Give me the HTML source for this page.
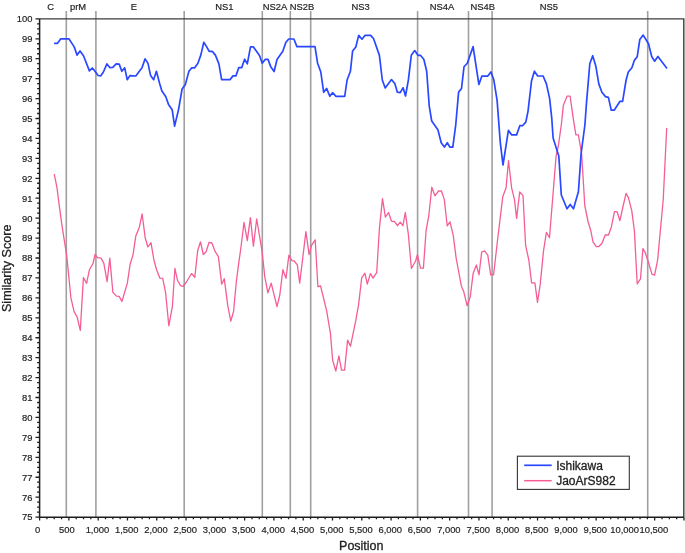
<!DOCTYPE html>
<html><head><meta charset="utf-8"><title>Similarity plot</title>
<style>html,body{margin:0;padding:0;background:#fff;}body{width:685px;height:553px;position:relative;overflow:hidden;}</style>
</head><body>
<svg width="685" height="553" viewBox="0 0 685 553" style="position:absolute;left:0;top:0">
<line x1="66.3" y1="11" x2="66.3" y2="517.2" stroke="#a0a0a0" stroke-width="1.6"/>
<line x1="95.9" y1="11" x2="95.9" y2="517.2" stroke="#a0a0a0" stroke-width="1.6"/>
<line x1="184.2" y1="11" x2="184.2" y2="517.2" stroke="#a0a0a0" stroke-width="1.6"/>
<line x1="262.3" y1="11" x2="262.3" y2="517.2" stroke="#a0a0a0" stroke-width="1.6"/>
<line x1="290.3" y1="11" x2="290.3" y2="517.2" stroke="#a0a0a0" stroke-width="1.6"/>
<line x1="310.7" y1="11" x2="310.7" y2="517.2" stroke="#a0a0a0" stroke-width="1.6"/>
<line x1="417.6" y1="11" x2="417.6" y2="517.2" stroke="#a0a0a0" stroke-width="1.6"/>
<line x1="468.5" y1="11" x2="468.5" y2="517.2" stroke="#a0a0a0" stroke-width="1.6"/>
<line x1="492.1" y1="11" x2="492.1" y2="517.2" stroke="#a0a0a0" stroke-width="1.6"/>
<line x1="647.7" y1="11" x2="647.7" y2="517.2" stroke="#a0a0a0" stroke-width="1.6"/>
<polyline points="54.2,174.2 57.0,187.6 58.6,200.6 61.9,225.1 66.8,256.3 70.9,297.9 74.0,311.4 77.1,316.9 80.3,330.4 83.4,277.6 86.6,283.4 89.4,269.8 93.0,263.5 95.1,254.5 97.5,257.7 101.1,258.1 103.8,263.1 107.1,281.6 109.8,258.1 112.9,292.4 116.5,296.1 119.2,296.4 121.9,301.5 127.3,283.4 130.1,264.3 133.0,254.9 135.8,236.1 139.5,226.7 142.1,214.0 145.3,238.3 147.9,247.0 151.0,242.6 153.9,260.0 156.5,269.5 159.8,278.1 162.7,278.4 165.6,292.6 168.8,325.8 172.4,306.3 174.9,268.3 177.5,280.3 180.3,285.3 182.9,286.5 186.1,282.5 191.6,273.5 194.8,277.4 197.7,250.5 200.5,241.8 203.3,254.5 206.1,251.7 209.1,242.3 211.9,243.0 215.2,251.7 218.4,256.6 221.7,284.2 224.3,278.8 227.8,305.9 230.8,321.1 233.6,311.3 236.3,282.0 238.6,264.2 241.0,247.0 244.0,222.3 247.3,240.7 250.4,217.6 253.4,246.2 256.7,219.0 262.1,251.6 264.8,276.9 267.9,292.8 271.2,283.2 277.0,306.7 279.8,295.0 282.9,269.7 286.0,278.4 288.9,255.2 292.0,260.6 294.3,261.0 297.4,265.2 299.7,283.2 305.9,231.7 309.1,254.6 311.5,245.3 315.2,239.9 317.9,286.7 320.6,286.0 326.7,311.2 330.5,333.9 332.6,360.0 335.8,371.1 338.9,355.9 341.5,370.1 344.6,370.1 347.6,340.1 350.5,346.2 355.7,320.9 358.6,304.6 361.7,277.9 364.9,273.2 367.3,284.1 370.4,273.6 373.1,278.1 376.7,272.7 379.4,228.4 382.5,198.6 385.4,217.2 388.5,212.5 391.5,221.2 394.4,221.5 397.5,225.7 400.2,222.1 402.9,225.7 405.3,212.5 408.3,233.8 411.4,268.5 415.6,261.0 417.4,254.7 420.5,268.2 423.4,268.2 426.1,230.3 428.8,215.7 431.8,187.2 434.9,195.8 438.6,191.0 441.4,191.0 444.3,199.4 447.2,225.8 450.0,221.9 453.2,235.2 456.2,258.5 461.4,286.2 463.8,291.8 467.1,305.7 470.3,296.7 473.1,273.6 476.4,265.0 479.0,274.8 481.7,252.0 484.5,250.8 487.8,255.2 490.7,274.8 493.6,274.8 497.2,243.0 502.8,196.4 506.1,187.8 508.5,160.6 511.6,187.8 514.5,199.6 516.6,218.4 519.7,192.0 523.0,195.6 525.6,245.3 528.8,260.0 531.6,282.8 534.9,282.8 537.5,302.3 540.2,284.4 543.5,251.0 546.4,232.3 549.5,237.7 556.1,155.9 558.3,146.2 561.3,125.0 563.3,105.6 567.0,96.2 570.1,96.2 573.5,120.1 575.9,134.8 578.4,134.8 581.6,153.5 584.8,205.5 588.0,221.5 590.9,231.2 593.0,241.8 596.3,246.7 598.7,246.7 602.0,243.2 605.2,235.0 608.5,235.0 611.3,227.2 614.5,211.7 617.1,211.7 619.9,220.7 623.1,206.0 626.1,193.3 628.5,197.9 631.8,210.9 634.4,230.9 637.2,283.8 640.5,278.9 642.9,248.5 645.3,252.9 648.6,262.7 651.9,274.1 654.6,275.2 657.6,260.2 663.2,200.0 666.7,127.9" fill="none" stroke="#f55d97" stroke-width="1.3" stroke-linejoin="round"/>
<polyline points="54.1,43.4 57.3,43.4 60.8,38.8 68.9,38.8 74.2,46.9 77.1,55.1 80.0,51.0 83.5,55.7 89.4,70.9 92.3,68.0 95.2,71.5 98.1,75.5 100.8,75.8 103.4,72.0 106.9,63.9 109.8,67.6 112.7,67.4 116.2,63.9 119.2,64.1 121.8,71.3 124.7,67.8 127.2,79.7 129.9,75.6 135.8,76.0 142.0,67.8 145.1,58.9 148.0,63.4 150.6,75.6 153.6,79.7 156.4,71.3 159.7,83.8 161.8,90.8 165.8,96.7 168.5,104.4 172.2,109.8 174.6,126.1 178.5,109.8 182.1,89.0 185.4,84.4 188.9,71.3 191.8,67.8 194.7,67.8 197.9,63.3 200.8,55.1 203.8,42.3 206.7,46.9 209.2,51.4 212.3,51.4 215.4,55.1 218.9,63.9 221.6,79.6 230.0,79.6 233.0,75.9 235.9,75.9 238.8,67.6 241.7,67.6 244.6,59.2 247.3,63.9 250.5,46.9 253.4,46.9 256.3,51.0 259.5,55.5 262.2,63.3 265.1,59.4 268.0,59.4 270.9,67.1 274.1,71.5 277.0,59.5 282.8,51.3 285.8,42.5 288.7,39.0 293.9,39.0 296.9,46.6 315.0,46.6 317.6,63.3 320.8,72.0 323.7,92.3 326.6,88.4 329.8,96.3 332.6,92.7 336.0,96.3 344.7,96.3 347.1,80.0 350.4,71.3 352.6,51.0 355.8,47.0 358.7,35.4 362.0,39.2 364.9,35.4 370.7,35.4 373.6,38.7 379.4,55.4 382.3,80.0 385.2,87.9 391.5,79.6 394.8,83.5 397.3,92.1 400.2,92.6 403.1,87.8 405.5,96.0 408.4,79.8 411.3,55.3 414.7,50.6 418.0,55.3 420.4,55.3 423.8,59.3 426.7,71.2 429.2,105.8 431.7,121.0 437.9,129.7 441.2,142.7 444.4,147.1 447.3,142.7 449.8,147.1 452.8,147.1 455.8,124.3 458.6,92.1 461.5,88.5 464.0,66.8 467.3,63.2 473.1,46.6 478.9,84.5 481.8,76.2 487.6,76.2 490.9,71.9 493.8,79.8 497.1,100.4 500.3,142.7 503.0,165.0 508.4,130.3 511.7,134.9 516.6,134.9 519.8,125.7 522.5,125.7 525.8,122.1 528.0,111.3 531.5,81.0 534.4,71.2 537.7,76.0 543.1,76.0 546.4,83.9 549.6,98.4 551.8,118.7 553.1,138.0 557.2,151.0 558.8,155.9 561.3,195.0 567.0,208.8 570.2,204.4 573.5,208.8 578.4,191.7 581.1,153.5 584.9,125.0 586.5,102.7 589.8,63.7 592.7,55.7 595.9,66.6 598.8,83.9 601.9,92.2 605.5,96.6 608.4,97.4 611.3,110.2 614.2,110.2 620.0,101.3 622.6,101.3 626.1,80.0 628.3,72.0 631.9,67.7 634.3,60.4 637.2,56.8 639.8,39.5 643.2,35.1 648.5,43.8 651.7,56.5 654.6,61.2 657.9,56.5 667.0,68.4" fill="none" stroke="#2a48ff" stroke-width="1.7" stroke-linejoin="round"/>
<path d="M39.6,18.85 H683.8 V517.2" fill="none" stroke="#3c3c3c" stroke-width="1.4"/>
<path d="M39.6,18.85 V517.2 H683.8" fill="none" stroke="#1e1e1e" stroke-width="1.5"/>
<path d="M35.5,517.10H39.6M37.1,512.12H39.6M37.1,507.13H39.6M37.1,502.15H39.6M35.5,497.17H39.6M37.1,492.19H39.6M37.1,487.21H39.6M37.1,482.22H39.6M35.5,477.24H39.6M37.1,472.26H39.6M37.1,467.28H39.6M37.1,462.29H39.6M35.5,457.31H39.6M37.1,452.33H39.6M37.1,447.35H39.6M37.1,442.36H39.6M35.5,437.38H39.6M37.1,432.40H39.6M37.1,427.42H39.6M37.1,422.43H39.6M35.5,417.45H39.6M37.1,412.47H39.6M37.1,407.49H39.6M37.1,402.50H39.6M35.5,397.52H39.6M37.1,392.54H39.6M37.1,387.56H39.6M37.1,382.57H39.6M35.5,377.59H39.6M37.1,372.61H39.6M37.1,367.62H39.6M37.1,362.64H39.6M35.5,357.66H39.6M37.1,352.68H39.6M37.1,347.69H39.6M37.1,342.71H39.6M35.5,337.73H39.6M37.1,332.75H39.6M37.1,327.77H39.6M37.1,322.78H39.6M35.5,317.80H39.6M37.1,312.82H39.6M37.1,307.84H39.6M37.1,302.85H39.6M35.5,297.87H39.6M37.1,292.89H39.6M37.1,287.91H39.6M37.1,282.92H39.6M35.5,277.94H39.6M37.1,272.96H39.6M37.1,267.98H39.6M37.1,262.99H39.6M35.5,258.01H39.6M37.1,253.03H39.6M37.1,248.04H39.6M37.1,243.06H39.6M35.5,238.08H39.6M37.1,233.10H39.6M37.1,228.11H39.6M37.1,223.13H39.6M35.5,218.15H39.6M37.1,213.17H39.6M37.1,208.19H39.6M37.1,203.20H39.6M35.5,198.22H39.6M37.1,193.24H39.6M37.1,188.25H39.6M37.1,183.27H39.6M35.5,178.29H39.6M37.1,173.31H39.6M37.1,168.32H39.6M37.1,163.34H39.6M35.5,158.36H39.6M37.1,153.38H39.6M37.1,148.39H39.6M37.1,143.41H39.6M35.5,138.43H39.6M37.1,133.45H39.6M37.1,128.47H39.6M37.1,123.48H39.6M35.5,118.50H39.6M37.1,113.52H39.6M37.1,108.53H39.6M37.1,103.55H39.6M35.5,98.57H39.6M37.1,93.59H39.6M37.1,88.60H39.6M37.1,83.62H39.6M35.5,78.64H39.6M37.1,73.66H39.6M37.1,68.68H39.6M37.1,63.69H39.6M35.5,58.71H39.6M37.1,53.73H39.6M37.1,48.75H39.6M37.1,43.76H39.6M35.5,38.78H39.6M37.1,33.80H39.6M37.1,28.82H39.6M37.1,23.83H39.6M35.5,18.85H39.6" stroke="#1e1e1e" stroke-width="1.3"/>
<path d="M39.60,517.2V520.6M46.92,517.2V519.2M54.25,517.2V519.2M61.57,517.2V519.2M68.89,517.2V520.6M76.21,517.2V519.2M83.53,517.2V519.2M90.86,517.2V519.2M98.18,517.2V520.6M105.50,517.2V519.2M112.82,517.2V519.2M120.15,517.2V519.2M127.47,517.2V520.6M134.79,517.2V519.2M142.12,517.2V519.2M149.44,517.2V519.2M156.76,517.2V520.6M164.08,517.2V519.2M171.41,517.2V519.2M178.73,517.2V519.2M186.05,517.2V520.6M193.37,517.2V519.2M200.69,517.2V519.2M208.02,517.2V519.2M215.34,517.2V520.6M222.66,517.2V519.2M229.98,517.2V519.2M237.31,517.2V519.2M244.63,517.2V520.6M251.95,517.2V519.2M259.28,517.2V519.2M266.60,517.2V519.2M273.92,517.2V520.6M281.24,517.2V519.2M288.56,517.2V519.2M295.89,517.2V519.2M303.21,517.2V520.6M310.53,517.2V519.2M317.86,517.2V519.2M325.18,517.2V519.2M332.50,517.2V520.6M339.82,517.2V519.2M347.15,517.2V519.2M354.47,517.2V519.2M361.79,517.2V520.6M369.11,517.2V519.2M376.44,517.2V519.2M383.76,517.2V519.2M391.08,517.2V520.6M398.40,517.2V519.2M405.73,517.2V519.2M413.05,517.2V519.2M420.37,517.2V520.6M427.69,517.2V519.2M435.02,517.2V519.2M442.34,517.2V519.2M449.66,517.2V520.6M456.98,517.2V519.2M464.31,517.2V519.2M471.63,517.2V519.2M478.95,517.2V520.6M486.27,517.2V519.2M493.60,517.2V519.2M500.92,517.2V519.2M508.24,517.2V520.6M515.56,517.2V519.2M522.88,517.2V519.2M530.21,517.2V519.2M537.53,517.2V520.6M544.85,517.2V519.2M552.18,517.2V519.2M559.50,517.2V519.2M566.82,517.2V520.6M574.14,517.2V519.2M581.47,517.2V519.2M588.79,517.2V519.2M596.11,517.2V520.6M603.43,517.2V519.2M610.75,517.2V519.2M618.08,517.2V519.2M625.40,517.2V520.6M632.72,517.2V519.2M640.05,517.2V519.2M647.37,517.2V519.2M654.69,517.2V520.6M662.01,517.2V519.2M669.34,517.2V519.2M676.66,517.2V519.2M683.98,517.2V520.6" stroke="#1e1e1e" stroke-width="1.3"/>
<text transform="translate(32.4,520.45)" text-anchor="end" font-size="9.4" fill="#222" font-family="Liberation Sans, Arial, Helvetica, sans-serif" stroke="#222" stroke-width="0.18">75</text>
<text transform="translate(32.4,500.52)" text-anchor="end" font-size="9.4" fill="#222" font-family="Liberation Sans, Arial, Helvetica, sans-serif" stroke="#222" stroke-width="0.18">76</text>
<text transform="translate(32.4,480.59)" text-anchor="end" font-size="9.4" fill="#222" font-family="Liberation Sans, Arial, Helvetica, sans-serif" stroke="#222" stroke-width="0.18">77</text>
<text transform="translate(32.4,460.66)" text-anchor="end" font-size="9.4" fill="#222" font-family="Liberation Sans, Arial, Helvetica, sans-serif" stroke="#222" stroke-width="0.18">78</text>
<text transform="translate(32.4,440.73)" text-anchor="end" font-size="9.4" fill="#222" font-family="Liberation Sans, Arial, Helvetica, sans-serif" stroke="#222" stroke-width="0.18">79</text>
<text transform="translate(32.4,420.80)" text-anchor="end" font-size="9.4" fill="#222" font-family="Liberation Sans, Arial, Helvetica, sans-serif" stroke="#222" stroke-width="0.18">80</text>
<text transform="translate(32.4,400.87)" text-anchor="end" font-size="9.4" fill="#222" font-family="Liberation Sans, Arial, Helvetica, sans-serif" stroke="#222" stroke-width="0.18">81</text>
<text transform="translate(32.4,380.94)" text-anchor="end" font-size="9.4" fill="#222" font-family="Liberation Sans, Arial, Helvetica, sans-serif" stroke="#222" stroke-width="0.18">82</text>
<text transform="translate(32.4,361.01)" text-anchor="end" font-size="9.4" fill="#222" font-family="Liberation Sans, Arial, Helvetica, sans-serif" stroke="#222" stroke-width="0.18">83</text>
<text transform="translate(32.4,341.08)" text-anchor="end" font-size="9.4" fill="#222" font-family="Liberation Sans, Arial, Helvetica, sans-serif" stroke="#222" stroke-width="0.18">84</text>
<text transform="translate(32.4,321.15)" text-anchor="end" font-size="9.4" fill="#222" font-family="Liberation Sans, Arial, Helvetica, sans-serif" stroke="#222" stroke-width="0.18">85</text>
<text transform="translate(32.4,301.22)" text-anchor="end" font-size="9.4" fill="#222" font-family="Liberation Sans, Arial, Helvetica, sans-serif" stroke="#222" stroke-width="0.18">86</text>
<text transform="translate(32.4,281.29)" text-anchor="end" font-size="9.4" fill="#222" font-family="Liberation Sans, Arial, Helvetica, sans-serif" stroke="#222" stroke-width="0.18">87</text>
<text transform="translate(32.4,261.36)" text-anchor="end" font-size="9.4" fill="#222" font-family="Liberation Sans, Arial, Helvetica, sans-serif" stroke="#222" stroke-width="0.18">88</text>
<text transform="translate(32.4,241.43)" text-anchor="end" font-size="9.4" fill="#222" font-family="Liberation Sans, Arial, Helvetica, sans-serif" stroke="#222" stroke-width="0.18">89</text>
<text transform="translate(32.4,221.50)" text-anchor="end" font-size="9.4" fill="#222" font-family="Liberation Sans, Arial, Helvetica, sans-serif" stroke="#222" stroke-width="0.18">90</text>
<text transform="translate(32.4,201.57)" text-anchor="end" font-size="9.4" fill="#222" font-family="Liberation Sans, Arial, Helvetica, sans-serif" stroke="#222" stroke-width="0.18">91</text>
<text transform="translate(32.4,181.64)" text-anchor="end" font-size="9.4" fill="#222" font-family="Liberation Sans, Arial, Helvetica, sans-serif" stroke="#222" stroke-width="0.18">92</text>
<text transform="translate(32.4,161.71)" text-anchor="end" font-size="9.4" fill="#222" font-family="Liberation Sans, Arial, Helvetica, sans-serif" stroke="#222" stroke-width="0.18">93</text>
<text transform="translate(32.4,141.78)" text-anchor="end" font-size="9.4" fill="#222" font-family="Liberation Sans, Arial, Helvetica, sans-serif" stroke="#222" stroke-width="0.18">94</text>
<text transform="translate(32.4,121.85)" text-anchor="end" font-size="9.4" fill="#222" font-family="Liberation Sans, Arial, Helvetica, sans-serif" stroke="#222" stroke-width="0.18">95</text>
<text transform="translate(32.4,101.92)" text-anchor="end" font-size="9.4" fill="#222" font-family="Liberation Sans, Arial, Helvetica, sans-serif" stroke="#222" stroke-width="0.18">96</text>
<text transform="translate(32.4,81.99)" text-anchor="end" font-size="9.4" fill="#222" font-family="Liberation Sans, Arial, Helvetica, sans-serif" stroke="#222" stroke-width="0.18">97</text>
<text transform="translate(32.4,62.06)" text-anchor="end" font-size="9.4" fill="#222" font-family="Liberation Sans, Arial, Helvetica, sans-serif" stroke="#222" stroke-width="0.18">98</text>
<text transform="translate(32.4,42.13)" text-anchor="end" font-size="9.4" fill="#222" font-family="Liberation Sans, Arial, Helvetica, sans-serif" stroke="#222" stroke-width="0.18">99</text>
<text transform="translate(32.4,22.20)" text-anchor="end" font-size="9.4" fill="#222" font-family="Liberation Sans, Arial, Helvetica, sans-serif" stroke="#222" stroke-width="0.18">100</text>
<text transform="translate(37.60,533.2)" text-anchor="middle" font-size="9.4" fill="#222" font-family="Liberation Sans, Arial, Helvetica, sans-serif" stroke="#222" stroke-width="0.18">0</text>
<text transform="translate(66.89,533.2)" text-anchor="middle" font-size="9.4" fill="#222" font-family="Liberation Sans, Arial, Helvetica, sans-serif" stroke="#222" stroke-width="0.18">500</text>
<text transform="translate(97.38,533.2)" text-anchor="middle" font-size="9.4" fill="#222" font-family="Liberation Sans, Arial, Helvetica, sans-serif" stroke="#222" stroke-width="0.18">1,000</text>
<text transform="translate(126.67,533.2)" text-anchor="middle" font-size="9.4" fill="#222" font-family="Liberation Sans, Arial, Helvetica, sans-serif" stroke="#222" stroke-width="0.18">1,500</text>
<text transform="translate(155.96,533.2)" text-anchor="middle" font-size="9.4" fill="#222" font-family="Liberation Sans, Arial, Helvetica, sans-serif" stroke="#222" stroke-width="0.18">2,000</text>
<text transform="translate(185.25,533.2)" text-anchor="middle" font-size="9.4" fill="#222" font-family="Liberation Sans, Arial, Helvetica, sans-serif" stroke="#222" stroke-width="0.18">2,500</text>
<text transform="translate(214.54,533.2)" text-anchor="middle" font-size="9.4" fill="#222" font-family="Liberation Sans, Arial, Helvetica, sans-serif" stroke="#222" stroke-width="0.18">3,000</text>
<text transform="translate(243.83,533.2)" text-anchor="middle" font-size="9.4" fill="#222" font-family="Liberation Sans, Arial, Helvetica, sans-serif" stroke="#222" stroke-width="0.18">3,500</text>
<text transform="translate(273.12,533.2)" text-anchor="middle" font-size="9.4" fill="#222" font-family="Liberation Sans, Arial, Helvetica, sans-serif" stroke="#222" stroke-width="0.18">4,000</text>
<text transform="translate(302.41,533.2)" text-anchor="middle" font-size="9.4" fill="#222" font-family="Liberation Sans, Arial, Helvetica, sans-serif" stroke="#222" stroke-width="0.18">4,500</text>
<text transform="translate(331.70,533.2)" text-anchor="middle" font-size="9.4" fill="#222" font-family="Liberation Sans, Arial, Helvetica, sans-serif" stroke="#222" stroke-width="0.18">5,000</text>
<text transform="translate(360.99,533.2)" text-anchor="middle" font-size="9.4" fill="#222" font-family="Liberation Sans, Arial, Helvetica, sans-serif" stroke="#222" stroke-width="0.18">5,500</text>
<text transform="translate(390.28,533.2)" text-anchor="middle" font-size="9.4" fill="#222" font-family="Liberation Sans, Arial, Helvetica, sans-serif" stroke="#222" stroke-width="0.18">6,000</text>
<text transform="translate(419.57,533.2)" text-anchor="middle" font-size="9.4" fill="#222" font-family="Liberation Sans, Arial, Helvetica, sans-serif" stroke="#222" stroke-width="0.18">6,500</text>
<text transform="translate(448.86,533.2)" text-anchor="middle" font-size="9.4" fill="#222" font-family="Liberation Sans, Arial, Helvetica, sans-serif" stroke="#222" stroke-width="0.18">7,000</text>
<text transform="translate(478.15,533.2)" text-anchor="middle" font-size="9.4" fill="#222" font-family="Liberation Sans, Arial, Helvetica, sans-serif" stroke="#222" stroke-width="0.18">7,500</text>
<text transform="translate(507.44,533.2)" text-anchor="middle" font-size="9.4" fill="#222" font-family="Liberation Sans, Arial, Helvetica, sans-serif" stroke="#222" stroke-width="0.18">8,000</text>
<text transform="translate(536.73,533.2)" text-anchor="middle" font-size="9.4" fill="#222" font-family="Liberation Sans, Arial, Helvetica, sans-serif" stroke="#222" stroke-width="0.18">8,500</text>
<text transform="translate(566.02,533.2)" text-anchor="middle" font-size="9.4" fill="#222" font-family="Liberation Sans, Arial, Helvetica, sans-serif" stroke="#222" stroke-width="0.18">9,000</text>
<text transform="translate(595.31,533.2)" text-anchor="middle" font-size="9.4" fill="#222" font-family="Liberation Sans, Arial, Helvetica, sans-serif" stroke="#222" stroke-width="0.18">9,500</text>
<text transform="translate(624.60,533.2)" text-anchor="middle" font-size="9.4" fill="#222" font-family="Liberation Sans, Arial, Helvetica, sans-serif" stroke="#222" stroke-width="0.18">10,000</text>
<text transform="translate(653.89,533.2)" text-anchor="middle" font-size="9.4" fill="#222" font-family="Liberation Sans, Arial, Helvetica, sans-serif" stroke="#222" stroke-width="0.18">10,500</text>
<text transform="translate(50.7,10.1)" text-anchor="middle" font-size="9.4" fill="#222" font-family="Liberation Sans, Arial, Helvetica, sans-serif" stroke="#222" stroke-width="0.18">C</text>
<text transform="translate(78.0,10.1)" text-anchor="middle" font-size="9.4" fill="#222" font-family="Liberation Sans, Arial, Helvetica, sans-serif" stroke="#222" stroke-width="0.18">prM</text>
<text transform="translate(133.8,10.1)" text-anchor="middle" font-size="9.4" fill="#222" font-family="Liberation Sans, Arial, Helvetica, sans-serif" stroke="#222" stroke-width="0.18">E</text>
<text transform="translate(224.3,10.1)" text-anchor="middle" font-size="9.4" fill="#222" font-family="Liberation Sans, Arial, Helvetica, sans-serif" stroke="#222" stroke-width="0.18">NS1</text>
<text transform="translate(275.0,10.1)" text-anchor="middle" font-size="9.4" fill="#222" font-family="Liberation Sans, Arial, Helvetica, sans-serif" stroke="#222" stroke-width="0.18">NS2A</text>
<text transform="translate(302.1,10.1)" text-anchor="middle" font-size="9.4" fill="#222" font-family="Liberation Sans, Arial, Helvetica, sans-serif" stroke="#222" stroke-width="0.18">NS2B</text>
<text transform="translate(360.7,10.1)" text-anchor="middle" font-size="9.4" fill="#222" font-family="Liberation Sans, Arial, Helvetica, sans-serif" stroke="#222" stroke-width="0.18">NS3</text>
<text transform="translate(442.0,10.1)" text-anchor="middle" font-size="9.4" fill="#222" font-family="Liberation Sans, Arial, Helvetica, sans-serif" stroke="#222" stroke-width="0.18">NS4A</text>
<text transform="translate(482.8,10.1)" text-anchor="middle" font-size="9.4" fill="#222" font-family="Liberation Sans, Arial, Helvetica, sans-serif" stroke="#222" stroke-width="0.18">NS4B</text>
<text transform="translate(548.8,10.1)" text-anchor="middle" font-size="9.4" fill="#222" font-family="Liberation Sans, Arial, Helvetica, sans-serif" stroke="#222" stroke-width="0.18">NS5</text>
<text x="361.3" y="549.6" text-anchor="middle" font-size="12.5" fill="#222" font-family="Liberation Sans, Arial, Helvetica, sans-serif" stroke="#222" stroke-width="0.3">Position</text>
<text transform="translate(11.3,268.3) rotate(-90)" x="0" y="0" text-anchor="middle" font-size="12.6" fill="#222" font-family="Liberation Sans, Arial, Helvetica, sans-serif" stroke="#222" stroke-width="0.3">Similarity Score</text>
<rect x="517.4" y="456.2" width="111.9" height="33.2" fill="#fff" stroke="#333" stroke-width="1.1"/>
<line x1="524.2" y1="465.3" x2="551.7" y2="465.3" stroke="#2a48ff" stroke-width="1.7"/>
<line x1="524.2" y1="480.7" x2="551.7" y2="480.7" stroke="#f55d97" stroke-width="1.5"/>
<text x="556.2" y="469.6" font-size="12" fill="#222" font-family="Liberation Sans, Arial, Helvetica, sans-serif" stroke="#222" stroke-width="0.3">Ishikawa</text>
<text x="556.2" y="485.0" font-size="12" fill="#222" font-family="Liberation Sans, Arial, Helvetica, sans-serif" stroke="#222" stroke-width="0.3">JaoArS982</text>
</svg>
</body></html>
